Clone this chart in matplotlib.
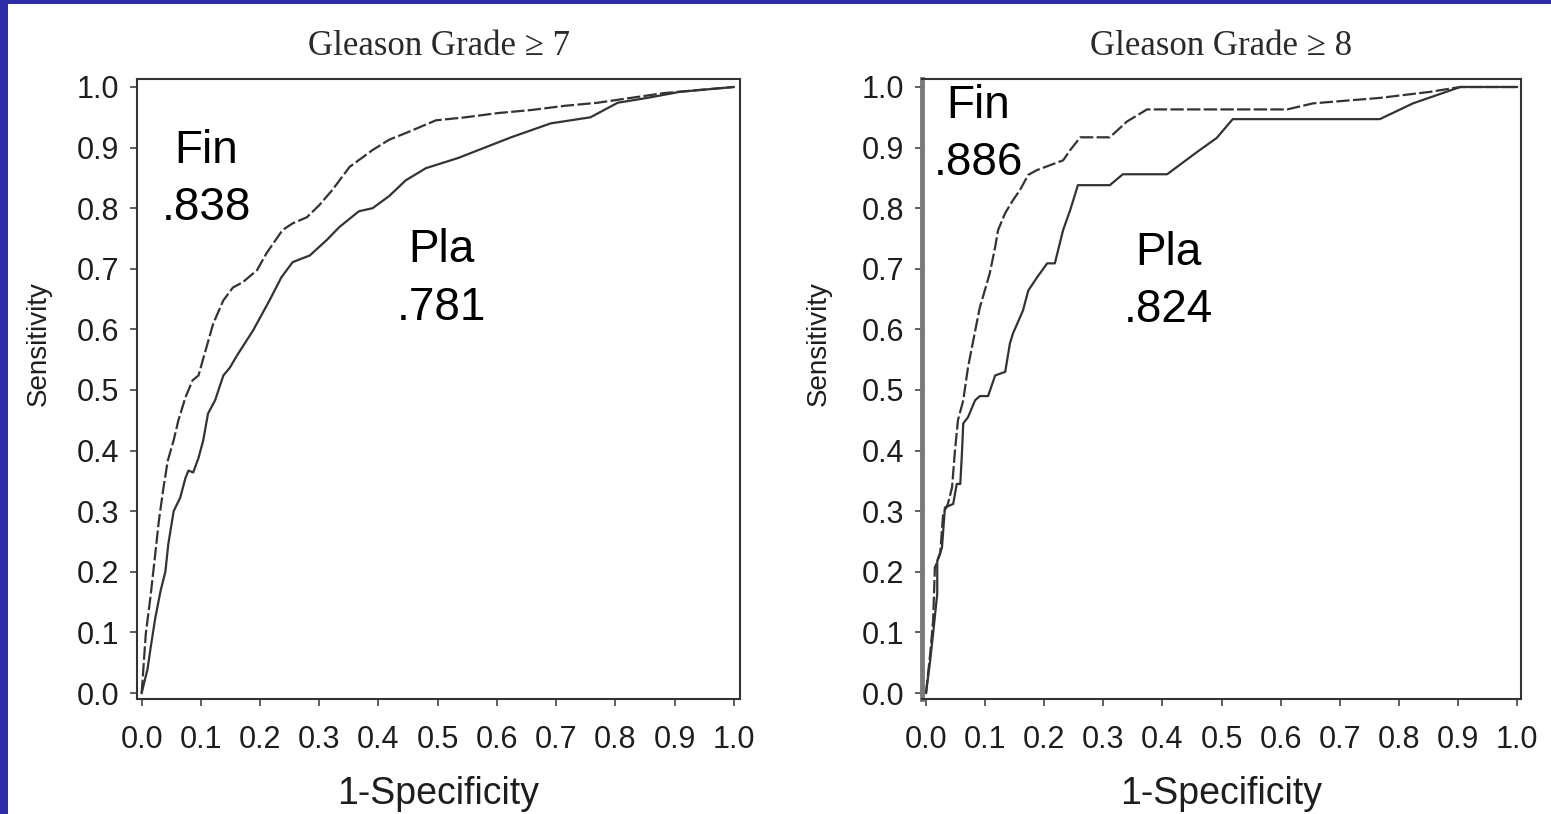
import numpy as np
import matplotlib
matplotlib.use("Agg")
import matplotlib.pyplot as plt
from matplotlib.patches import Rectangle

# ROC curves
fin7_x = [0, 0.007, 0.015, 0.023, 0.029, 0.037, 0.044, 0.054, 0.062, 0.074, 0.086, 0.096, 0.104, 0.121,
          0.138, 0.154, 0.171, 0.195, 0.211, 0.238, 0.255, 0.279, 0.30, 0.322, 0.351, 0.39, 0.418, 0.451,
          0.497, 0.547, 0.602, 0.658, 0.715, 0.77, 0.826, 0.883, 0.94, 1.0]
fin7_y = [0, 0.098, 0.16, 0.23, 0.284, 0.34, 0.383, 0.417, 0.45, 0.488, 0.516, 0.524, 0.552, 0.61,
          0.648, 0.669, 0.678, 0.698, 0.726, 0.764, 0.775, 0.785, 0.805, 0.83, 0.868, 0.896, 0.913, 0.926,
          0.945, 0.95, 0.957, 0.962, 0.969, 0.974, 0.982, 0.99, 0.995, 1.0]
pla7_x = [0, 0.01, 0.015, 0.023, 0.032, 0.04, 0.045, 0.054, 0.065, 0.074, 0.079, 0.087, 0.096, 0.104,
          0.112, 0.124, 0.138, 0.149, 0.161, 0.188, 0.216, 0.236, 0.255, 0.284, 0.312, 0.334, 0.367, 0.39,
          0.418, 0.446, 0.48, 0.535, 0.569, 0.624, 0.691, 0.758, 0.804, 0.854, 0.909, 1.0]
pla7_y = [0, 0.04, 0.074, 0.124, 0.169, 0.2, 0.246, 0.30, 0.322, 0.355, 0.367, 0.364, 0.388, 0.417,
          0.461, 0.483, 0.524, 0.537, 0.557, 0.598, 0.648, 0.686, 0.711, 0.722, 0.747, 0.769, 0.795, 0.80,
          0.82, 0.846, 0.866, 0.883, 0.896, 0.917, 0.94, 0.95, 0.974, 0.982, 0.992, 1.0]

fin8_x = [0, 0.007, 0.012, 0.015, 0.024, 0.029, 0.037, 0.044, 0.049, 0.054, 0.063, 0.071, 0.08, 0.091,
          0.108, 0.117, 0.122, 0.134, 0.147, 0.159, 0.173, 0.188, 0.21, 0.232, 0.244, 0.261, 0.311, 0.34,
          0.374, 0.611, 0.655, 0.768, 0.853, 0.904, 1.0]
fin8_y = [0, 0.064, 0.119, 0.207, 0.23, 0.296, 0.312, 0.339, 0.40, 0.45, 0.483, 0.537, 0.582, 0.636,
          0.693, 0.736, 0.764, 0.792, 0.813, 0.83, 0.855, 0.863, 0.871, 0.879, 0.896, 0.917, 0.917, 0.943,
          0.963, 0.963, 0.973, 0.982, 0.992, 1.0, 1.0]
pla8_x = [0, 0.007, 0.012, 0.019, 0.019, 0.027, 0.032, 0.046, 0.052, 0.058, 0.061, 0.063, 0.071, 0.083,
          0.091, 0.105, 0.117, 0.134, 0.142, 0.147, 0.164, 0.173, 0.188, 0.205, 0.218, 0.232, 0.244, 0.257,
          0.311, 0.333, 0.408, 0.459, 0.492, 0.519, 0.768, 0.824, 0.904, 1.0]
pla8_y = [0, 0.053, 0.098, 0.164, 0.218, 0.24, 0.306, 0.312, 0.345, 0.345, 0.40, 0.445, 0.455, 0.483,
          0.49, 0.49, 0.524, 0.53, 0.577, 0.593, 0.631, 0.664, 0.686, 0.709, 0.709, 0.764, 0.797, 0.838,
          0.838, 0.856, 0.856, 0.893, 0.916, 0.947, 0.947, 0.973, 1.0, 1.0]

titles = ["Gleason Grade \u2265 7", "Gleason Grade \u2265 8"]
auc_fin = [".838", ".886"]
auc_pla = [".781", ".824"]
ticks = np.round(np.arange(0, 1.01, 0.1), 1)
tick_labels = [f"{t:.1f}" for t in ticks]

W, H = 1551, 814
fig = plt.figure(figsize=(W / 100, H / 100), dpi=100, facecolor="#2c2ca8")
fig.add_artist(Rectangle((8 / W, 0), 1, 1 - 4 / H, transform=fig.transFigure,
                         facecolor="white", edgecolor="none", zorder=-10))

sans = "Liberation Sans"
ink = "#1e1e1e"
line_col = "#333333"

# axes frames in pixels (left, right) ; xlim ; text positions (data coords)
panels = [
    dict(px=(137, 740), xlim=(-0.0079, 1.0106), fin=(0.109, 0.875, 0.78), pla=(0.507, 0.711, 0.616),
         ylab_x=52, fx=fin7_x, fy=fin7_y, plx=pla7_x, ply=pla7_y),
    dict(px=(922, 1521), xlim=(-0.0068, 1.0068), fin=(0.088, 0.949, 0.855), pla=(0.41, 0.706, 0.612),
         ylab_x=832, fx=fin8_x, fy=fin8_y, plx=pla8_x, ply=pla8_y),
]
top, bottom = 79, 699

for i, p in enumerate(panels):
    l, r = p["px"]
    ax = fig.add_axes([l / W, 1 - bottom / H, (r - l) / W, (bottom - top) / H])
    ax.set_facecolor("white")
    ax.plot(p["fx"], p["fy"], color=line_col, lw=1.6, linestyle=(0, (6, 1.5)))
    ax.plot(p["plx"], p["ply"], color=line_col, lw=1.6)
    ax.set_xlim(*p["xlim"])
    ax.set_ylim(-0.0099, 1.0132)
    ax.set_xticks(ticks)
    ax.set_xticklabels(tick_labels)
    ax.set_yticks(ticks)
    ax.set_yticklabels(tick_labels)
    ax.tick_params(direction="out", length=5, width=1.2, color="#444444",
                   labelsize=22, labelcolor=ink)
    ax.tick_params(axis="x", pad=14)
    ax.tick_params(axis="y", pad=8)
    for lab in ax.get_xticklabels() + ax.get_yticklabels():
        lab.set_family(sans)
    for s in ax.spines.values():
        s.set_color("#333333")
        s.set_linewidth(1.5)
    if i == 1:
        ax.spines["left"].set_color("#7a7a7a")
        ax.spines["left"].set_linewidth(3.5)

    ax.set_title(titles[i], family="Liberation Serif", fontsize=25, color="#2a2a2a", pad=17)
    ax.set_xlabel("1-Specificity", family=sans, fontsize=27, color=ink, labelpad=15)
    ax.set_ylabel("Sensitivity", family=sans, fontsize=20, color=ink)
    ax.yaxis.set_label_coords((p["ylab_x"] - l) / (r - l), 0.574)

    fx, fy1, fy2 = p["fin"]
    ax.text(fx, fy1, "Fin", family=sans, fontsize=33, ha="center", va="baseline", color="black")
    ax.text(fx, fy2, auc_fin[i], family=sans, fontsize=33, ha="center", va="baseline", color="black")
    qx, qy1, qy2 = p["pla"]
    ax.text(qx, qy1, "Pla", family=sans, fontsize=33, ha="center", va="baseline", color="black")
    ax.text(qx, qy2, auc_pla[i], family=sans, fontsize=33, ha="center", va="baseline", color="black")

fig.savefig("out.png", dpi=100, facecolor=fig.get_facecolor())
